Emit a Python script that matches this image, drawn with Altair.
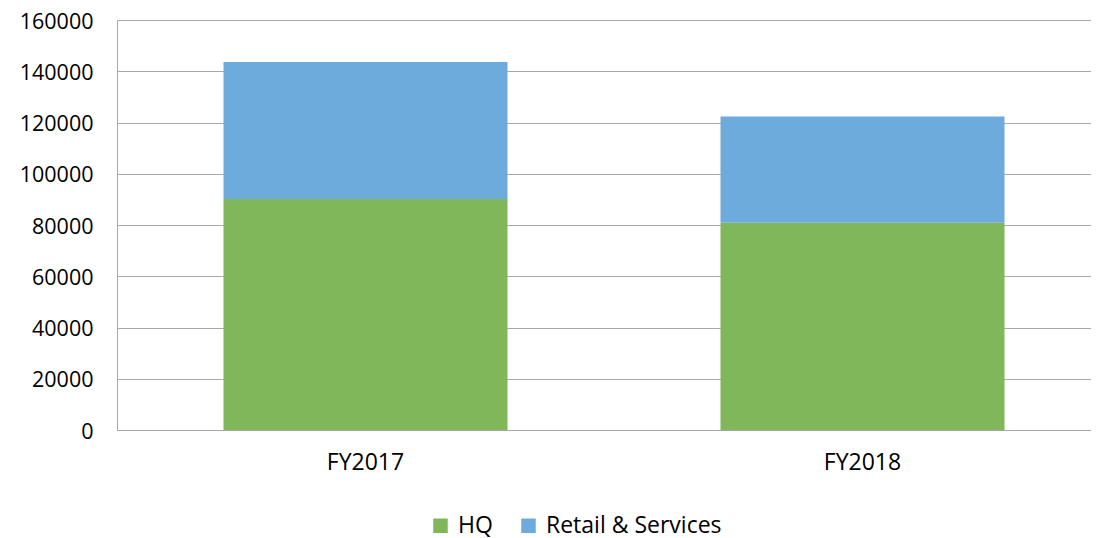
import altair as alt
import pandas as pd

years = ["FY2017", "FY2018"]
series = ["HQ", "Retail & Services"]
hq = [90100, 80900]
retail = [53500, 41400]
colors = ["#80B75B", "#6CABDC"]

rows = []
for i, y in enumerate(years):
    rows.append({"year": y, "series": series[0], "value": hq[i], "ord": 0})
    rows.append({"year": y, "series": series[1], "value": retail[i], "ord": 1})
df = pd.DataFrame(rows)

FONT = "Open Sans"

chart = alt.Chart(df).mark_bar(size=284).encode(
    x=alt.X("year:N", sort=years, title=None,
            axis=alt.Axis(labelAngle=0, ticks=False, grid=False, domainColor="#A6A6A6",
                          labelFontSize=23, labelPadding=21, labelColor="#000000",
                          labelFont=FONT)),
    y=alt.Y("value:Q", stack="zero", title=None,
            scale=alt.Scale(domain=[0, 160000], nice=False),
            axis=alt.Axis(values=list(range(0, 160001, 20000)), ticks=False, grid=True,
                          domainColor="#A6A6A6", gridColor="#A8A8A8",
                          labelFontSize=21.5, labelPadding=24, labelColor="#000000",
                          labelFont=FONT, format="d", labelOffset=2)),
    color=alt.Color("series:N", sort=series,
                    scale=alt.Scale(domain=series, range=colors),
                    legend=alt.Legend(title=None, orient="none", direction="horizontal",
                                      legendX=312, legendY=494,
                                      symbolType="square", symbolSize=210,
                                      symbolStrokeWidth=0, labelFontSize=23,
                                      labelFont=FONT, labelColor="#000000",
                                      labelLimit=400,
                                      columnPadding=24, labelOffset=6)),
    order=alt.Order("ord:Q", sort="ascending"),
).properties(
    width=994, height=410,
    autosize=alt.AutoSizeParams(type="none"),
    padding={"left": 109, "top": 12, "right": -20, "bottom": 108},
).configure_view(stroke=None)

chart.save("out.html", embed_options={"renderer": "svg", "actions": False})
